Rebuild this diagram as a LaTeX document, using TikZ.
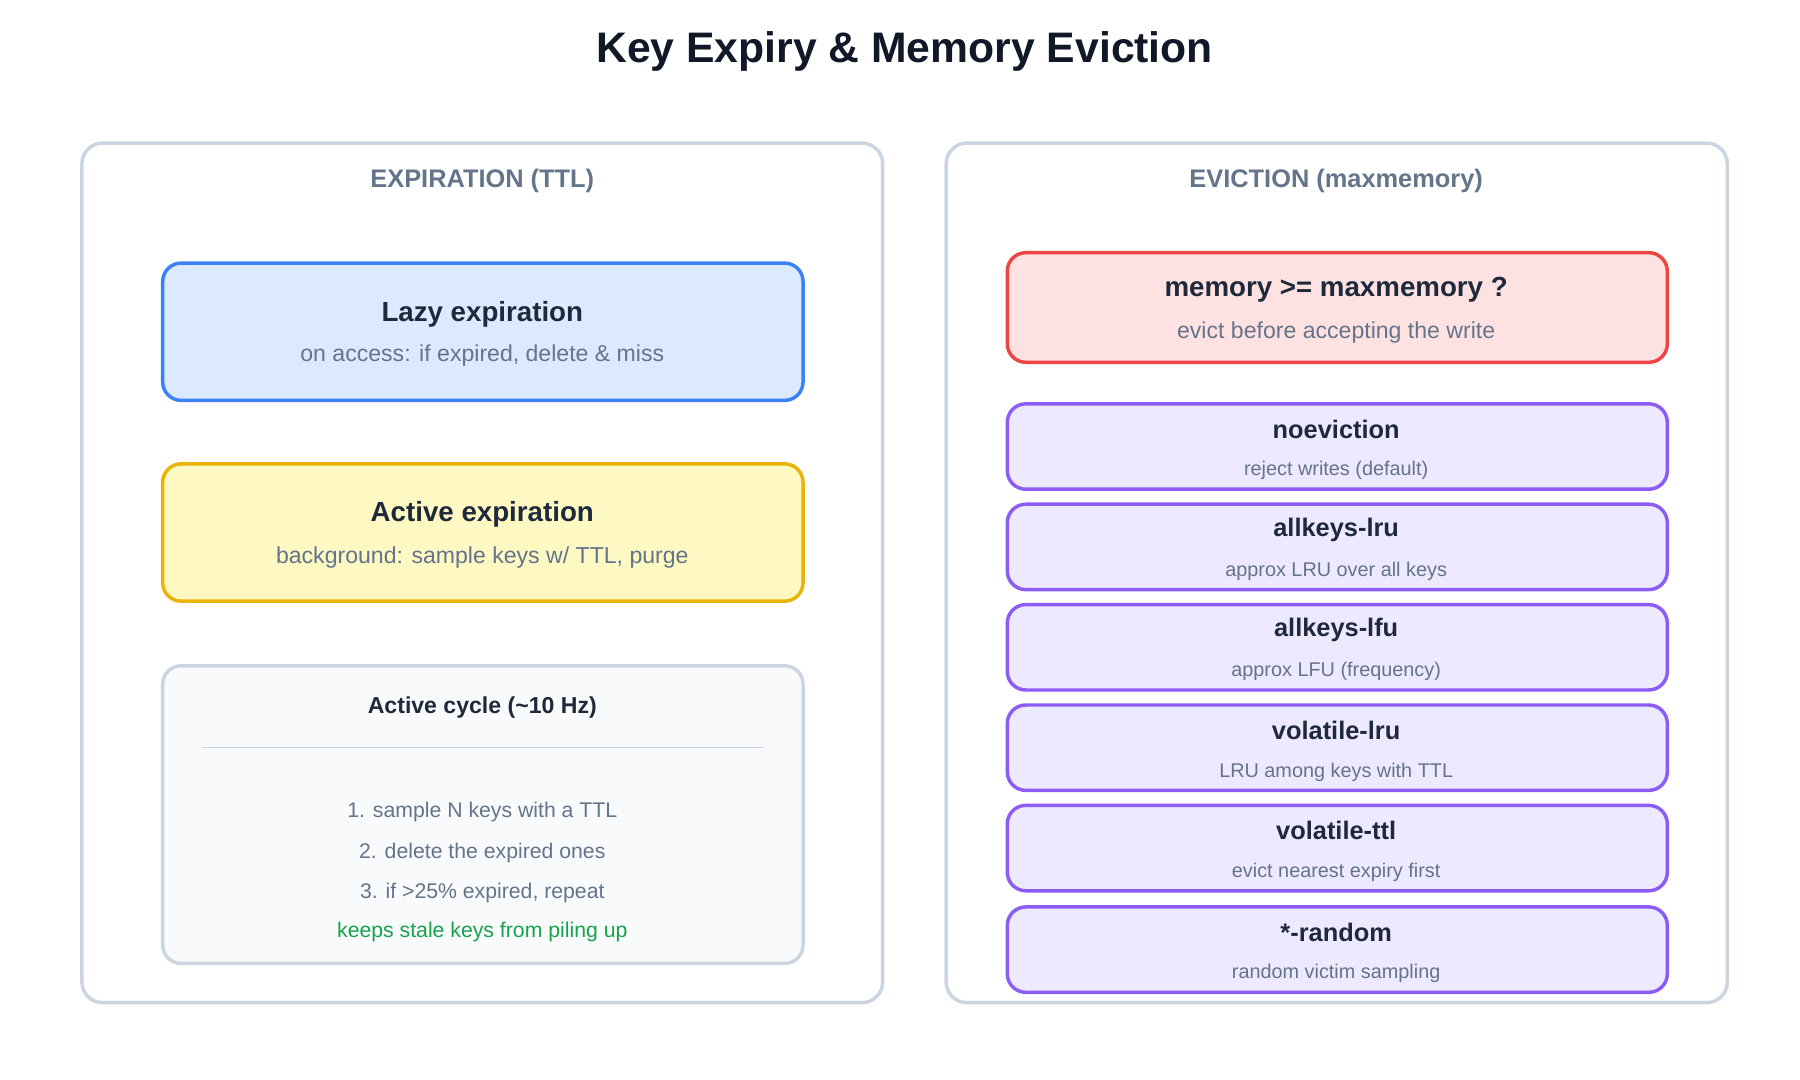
\documentclass[tikz,border=0pt]{standalone}
\usepackage{fontspec}
\setmainfont{Liberation Sans}
\definecolor{cbd}{HTML}{CBD5E1}
\definecolor{tx}{HTML}{1E293B}
\definecolor{gr}{HTML}{64748B}
\definecolor{ttc}{HTML}{111827}
\definecolor{bst}{HTML}{3B82F6}\definecolor{bfl}{HTML}{DBEAFE}
\definecolor{yst}{HTML}{EAB308}\definecolor{yfl}{HTML}{FEF9C3}
\definecolor{cfl}{HTML}{F8FAFC}
\definecolor{gn}{HTML}{16A34A}
\definecolor{rst}{HTML}{EF4444}\definecolor{rfl}{HTML}{FEE2E2}
\definecolor{pst}{HTML}{8B5CF6}\definecolor{pfl}{HTML}{EDE9FE}
\begin{document}
\begin{tikzpicture}[x=0.5pt,y=-0.5pt,
  panel/.style={draw=cbd, line width=1.5pt, rounded corners=9pt, fill=white},
  card/.style={line width=1.5pt, rounded corners=8pt},
  ttl/.style={font=\bfseries\fontsize{12}{14}\selectfont, text=tx},
  sub/.style={font=\fontsize{10}{12}\selectfont, text=gr},
  pttl/.style={font=\bfseries\fontsize{11}{13}\selectfont, text=tx},
  psub/.style={font=\fontsize{8.6}{10}\selectfont, text=gr},
  cyc/.style={font=\fontsize{9.2}{11}\selectfont, text=gr},
  htl/.style={font=\bfseries\fontsize{11}{13}\selectfont, text=gr}]
\useasboundingbox[fill=white] (0,0) rectangle (1560,936);
\node[font=\bfseries\fontsize{18.5}{22}\selectfont, text=ttc] (title) at (784,45) {Key Expiry \& Memory Eviction};
% left panel
\draw[panel] (71,124) rectangle (765,869);
\node[htl] (lh) at (418,157) {EXPIRATION (TTL)};
\draw[card, draw=bst, fill=bfl] (141,228) rectangle (696,347);
\node[ttl] (lazy) at (418,272) {Lazy expiration};
\node[sub] (lazys) at (418,308) {on access: if expired, delete \& miss};
\draw[card, draw=yst, fill=yfl] (141,402) rectangle (696,521);
\node[ttl] (act) at (418,446) {Active expiration};
\node[sub] (acts) at (418,483) {background: sample keys w/ TTL, purge};
\draw[card, draw=cbd, fill=cfl] (141,577) rectangle (696,835);
\node[font=\bfseries\fontsize{10}{12}\selectfont, text=tx] (cyc) at (418,613) {Active cycle (\char`~10 Hz)};
\draw[cbd, line width=0.6pt] (175,648) -- (662,648);
\node[cyc] (c1) at (418,704) {1. sample N keys with a TTL};
\node[cyc] (c2) at (418,739) {2. delete the expired ones};
\node[cyc] (c3) at (418,774) {3. if >25\% expired, repeat};
\node[cyc, text=gn] (c4) at (418,808) {keeps stale keys from piling up};
% right panel
\draw[panel] (820,124) rectangle (1497,869);
\node[htl] (rh) at (1158,157) {EVICTION (maxmemory)};
\draw[card, draw=rst, fill=rfl] (873,219) rectangle (1445,314);
\node[ttl] (mem) at (1158,251) {memory >= maxmemory ?};
\node[sub] (mems) at (1158,288) {evict before accepting the write};
\foreach \y/\a/\b [count=\i] in {350/noeviction/reject writes (default),
  437/allkeys-lru/approx LRU over all keys,
  524/allkeys-lfu/approx LFU (frequency),
  611/volatile-lru/LRU among keys with TTL,
  698/volatile-ttl/evict nearest expiry first,
  786/*-random/random victim sampling}{
  \draw[card, draw=pst, fill=pfl] (873,\y) rectangle (1445,\y+74);
  \node[pttl] (p\i) at (1158,\y+22) {\a};
  \node[psub] (q\i) at (1158,\y+58) {\b};
}
\end{tikzpicture}
\end{document}
